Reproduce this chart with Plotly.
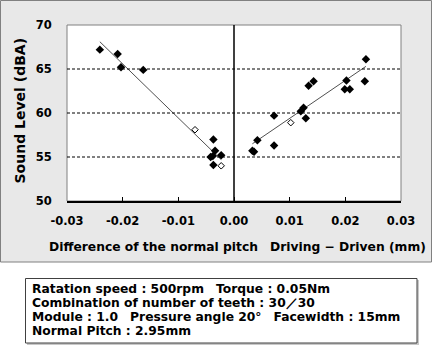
import plotly.graph_objects as go

# Data
filled_x = [-0.0241, -0.0209, -0.0203, -0.0163, -0.0037, -0.0034, -0.0042, -0.0038, -0.0023, -0.0037,
            0.0033, 0.0036, 0.0042, 0.0072, 0.0072, 0.0120, 0.0125, 0.0129, 0.0134, 0.0143,
            0.0199, 0.0208, 0.0202, 0.0235, 0.0237]
filled_y = [67.2, 66.7, 65.2, 64.9, 57.0, 55.7, 55.0, 55.1, 55.2, 54.1,
            55.7, 55.6, 56.9, 59.7, 56.3, 60.2, 60.6, 59.4, 63.1, 63.6,
            62.7, 62.7, 63.7, 63.6, 66.1]
open_x = [-0.0070, -0.0023, 0.0102]
open_y = [58.1, 54.0, 58.9]
fit_left_x = [-0.0241, -0.0023]
fit_left_y = [68.1, 54.7]
fit_right_x = [0.0033, 0.0237]
fit_right_y = [56.5, 65.3]
x_ticks = [-0.03, -0.02, -0.01, 0.0, 0.01, 0.02, 0.03]
x_tick_text = ["-0.03", "-0.02", "-0.01", "0.00", "0.01", "0.02", "0.03"]
y_ticks = [50, 55, 60, 65, 70]
info_lines = [
    "Ratation speed : 500rpm　Torque : 0.05Nm",
    "Combination of number of teeth : 30／30",
    "Module : 1.0　Pressure angle 20°　Facewidth : 15mm",
    "Normal Pitch : 2.95mm",
]

W, H = 432, 349
L, R, T, B = 67, 31, 25, 148
PW, PH = W - L - R, H - T - B

def px(x):
    return (x - L) / PW

def py(y):
    return (H - B - y) / PH

FONT = "DejaVu Sans"

fig = go.Figure()
for fx, fy in [(fit_left_x, fit_left_y), (fit_right_x, fit_right_y)]:
    fig.add_trace(go.Scatter(x=fx, y=fy, mode="lines",
                             line=dict(color="#505050", width=1), hoverinfo="skip"))
fig.add_trace(go.Scatter(x=filled_x, y=filled_y, mode="markers",
                         marker=dict(symbol="diamond", size=6.5, color="black")))
fig.add_trace(go.Scatter(x=open_x, y=open_y, mode="markers",
                         marker=dict(symbol="diamond-open", size=5, color="black",
                                     line=dict(width=1, color="black"))))

shapes = [
    dict(type="rect", xref="paper", yref="paper", x0=px(0.5), x1=px(431.5), y0=py(0.5), y1=py(262),
         fillcolor="#e8e8e8", line=dict(color="#808080", width=1), layer="below"),
    dict(type="rect", xref="paper", yref="paper", x0=0, x1=1, y0=0, y1=1,
         fillcolor="white", line=dict(color="#808080", width=1), layer="below"),
    dict(type="rect", xref="paper", yref="paper", x0=px(27), x1=px(419), y0=py(280), y1=py(345),
         fillcolor="#c8c8c8", line=dict(width=0), layer="below"),
    dict(type="rect", xref="paper", yref="paper", x0=px(25.5), x1=px(417), y0=py(278.5), y1=py(343),
         fillcolor="white", line=dict(color="#404040", width=1), layer="below"),
    dict(type="line", xref="x", yref="paper", x0=0, x1=0, y0=0, y1=1,
         line=dict(color="black", width=1.5)),
]
for g in [55, 60, 65]:
    shapes.append(dict(type="line", xref="paper", yref="y", x0=0, x1=1, y0=g, y1=g,
                       line=dict(color="black", width=1, dash="3px,2px")))

annotations = [
    dict(xref="paper", yref="paper", x=px(19), y=py(110.5), text="Sound Level (dBA)",
         textangle=-90, showarrow=False, xanchor="center", yanchor="middle",
         font=dict(family=FONT, size=14, color="black", weight="bold")),
    dict(xref="paper", yref="paper", x=px(237), y=py(247),
         text="Difference of the normal pitch　Driving − Driven (mm)",
         showarrow=False, xanchor="center", yanchor="middle",
         font=dict(family=FONT, size=12.3, color="black", weight="bold")),
]
for i, line in enumerate(info_lines):
    annotations.append(dict(xref="paper", yref="paper", x=px(30), y=py(289.3 + 13.9 * i),
                            text=line, showarrow=False, xanchor="left", yanchor="middle",
                            font=dict(family=FONT, size=12.3, color="black", weight="bold")))

fig.update_layout(
    width=W, height=H,
    margin=dict(l=L, r=R, t=T, b=B),
    paper_bgcolor="white", plot_bgcolor="rgba(0,0,0,0)",
    showlegend=False,
    shapes=shapes,
    annotations=annotations,
    font=dict(family=FONT, color="black"),
    xaxis=dict(range=[-0.03, 0.03], tickvals=x_ticks, ticktext=x_tick_text,
               ticks="inside", ticklen=4, tickcolor="black", tickwidth=1,
               showgrid=False, zeroline=False, showline=True, linecolor="black", linewidth=1.5,
               tickfont=dict(family=FONT, size=11.5, color="black", weight="bold"),
               ticklabelstandoff=8),
    yaxis=dict(range=[50, 70], tickvals=y_ticks,
               ticks="outside", ticklen=12, tickcolor="rgba(0,0,0,0)",
               showgrid=False, zeroline=False, showline=False,
               tickfont=dict(family=FONT, size=11.5, color="black", weight="bold")),
)

fig.write_html("out.html")
